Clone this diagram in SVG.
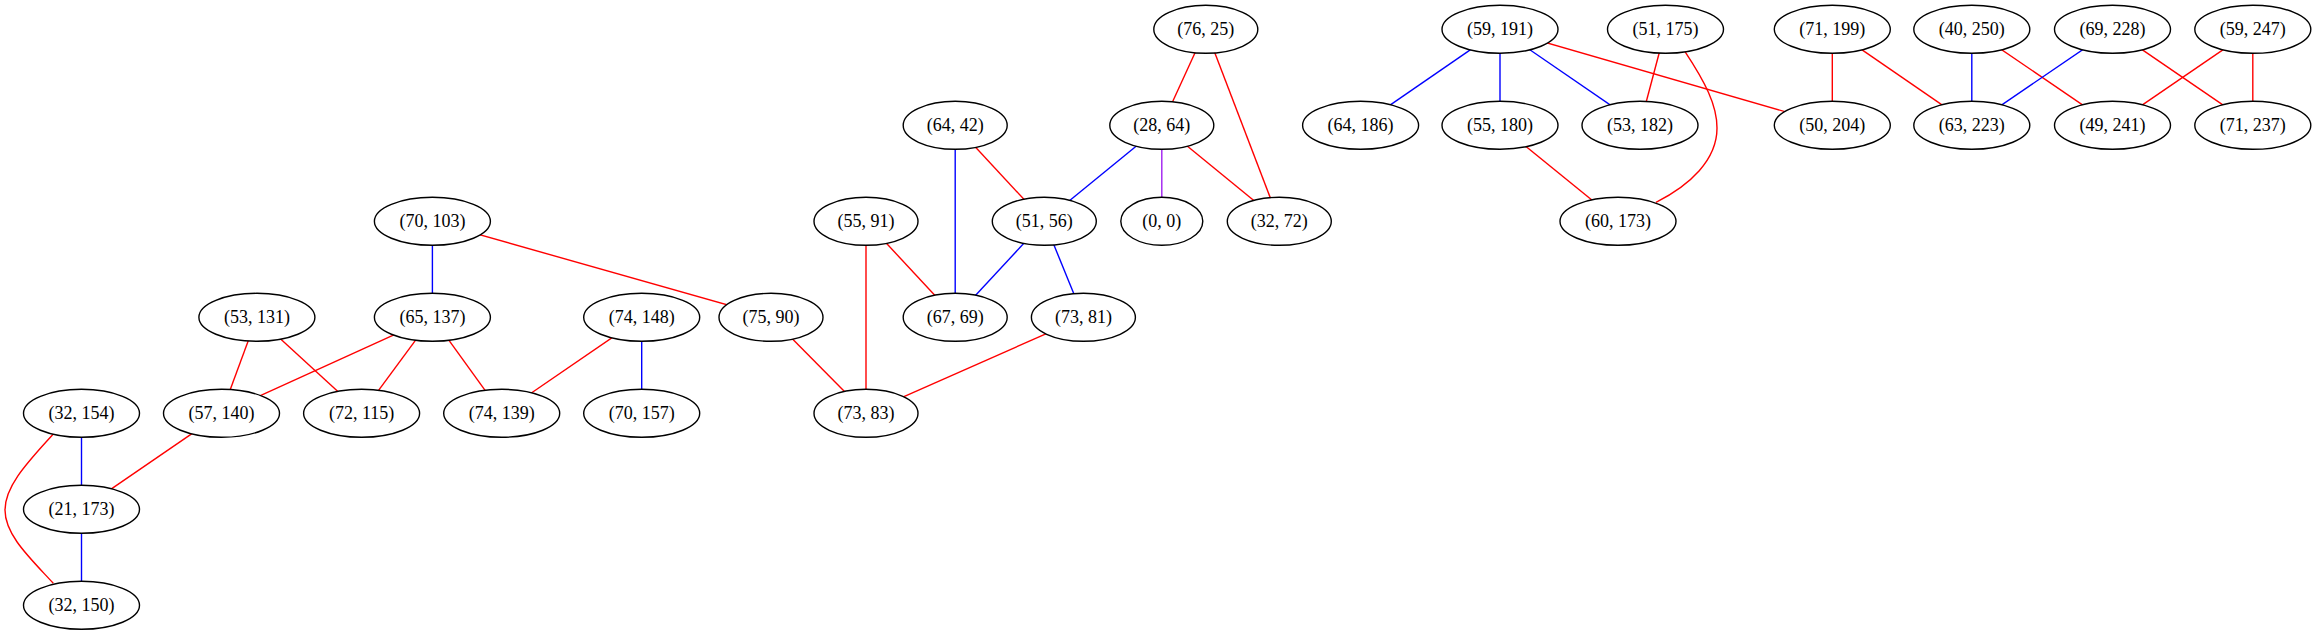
<svg xmlns="http://www.w3.org/2000/svg" width="2316" height="635" viewBox="0 0 2316 635">
<style>
.n ellipse{fill:#ffffff;stroke:#000000;stroke-width:1.4}
.n text{font-family:"Liberation Serif","Times New Roman",serif;font-size:18px;fill:#000000;text-anchor:middle}
.e line,.e path{fill:none;stroke-width:1.4}
.r{stroke:#ff0000}
.b{stroke:#0000ff}
.p{stroke:#a020f0}
</style>
<rect width="2316" height="635" fill="#ffffff"/>
<g id="edges" class="e">
<line class="b" x1="432.4" y1="221.3" x2="432.4" y2="317.3"/>
<line class="r" x1="432.4" y1="221.3" x2="771" y2="317.3"/>
<line class="r" x1="256.9" y1="317.3" x2="221.5" y2="413.3"/>
<line class="r" x1="256.9" y1="317.3" x2="361.6" y2="413.3"/>
<line class="r" x1="432.4" y1="317.3" x2="221.5" y2="413.3"/>
<line class="r" x1="432.4" y1="317.3" x2="361.6" y2="413.3"/>
<line class="r" x1="432.4" y1="317.3" x2="501.7" y2="413.3"/>
<line class="r" x1="641.7" y1="317.3" x2="501.7" y2="413.3"/>
<line class="b" x1="641.7" y1="317.3" x2="641.7" y2="413.3"/>
<line class="b" x1="81.5" y1="413.3" x2="81.5" y2="509.3"/>
<path class="r" d="M53.3,434 C30,460 5,485 5,510 C5,535 30,558 53.3,583.3"/>
<line class="r" x1="221.5" y1="413.3" x2="81.5" y2="509.3"/>
<line class="b" x1="81.5" y1="509.3" x2="81.5" y2="605.3"/>
<line class="r" x1="1205.8" y1="29.3" x2="1161.8" y2="125.3"/>
<line class="r" x1="1205.8" y1="29.3" x2="1279.3" y2="221.3"/>
<line class="b" x1="955.2" y1="125.3" x2="955.2" y2="317.3"/>
<line class="r" x1="955.2" y1="125.3" x2="1044.3" y2="221.3"/>
<line class="b" x1="1161.8" y1="125.3" x2="1044.3" y2="221.3"/>
<line class="p" x1="1161.8" y1="125.3" x2="1161.8" y2="221.3"/>
<line class="r" x1="1161.8" y1="125.3" x2="1279.3" y2="221.3"/>
<line class="r" x1="866" y1="221.3" x2="955.2" y2="317.3"/>
<line class="r" x1="866" y1="221.3" x2="866" y2="413.3"/>
<line class="b" x1="1044.3" y1="221.3" x2="955.2" y2="317.3"/>
<line class="b" x1="1044.3" y1="221.3" x2="1083.4" y2="317.3"/>
<line class="r" x1="771" y1="317.3" x2="866" y2="413.3"/>
<line class="r" x1="1083.4" y1="317.3" x2="866" y2="413.3"/>
<line class="b" x1="1500" y1="29.3" x2="1360.6" y2="125.3"/>
<line class="b" x1="1500" y1="29.3" x2="1500" y2="125.3"/>
<line class="b" x1="1500" y1="29.3" x2="1640" y2="125.3"/>
<line class="r" x1="1500" y1="29.3" x2="1832.3" y2="125.3"/>
<line class="r" x1="1665.5" y1="29.3" x2="1640" y2="125.3"/>
<path class="r" d="M1685,51.7 C1705,82 1717,105 1717,128 C1717,160 1690,185 1656,202.3"/>
<line class="r" x1="1500" y1="125.3" x2="1618" y2="221.3"/>
<line class="r" x1="1832.3" y1="29.3" x2="1832.3" y2="125.3"/>
<line class="r" x1="1832.3" y1="29.3" x2="1971.8" y2="125.3"/>
<line class="b" x1="1971.8" y1="29.3" x2="1971.8" y2="125.3"/>
<line class="r" x1="1971.8" y1="29.3" x2="2112.5" y2="125.3"/>
<line class="b" x1="2112.5" y1="29.3" x2="1971.8" y2="125.3"/>
<line class="r" x1="2112.5" y1="29.3" x2="2252.8" y2="125.3"/>
<line class="r" x1="2252.8" y1="29.3" x2="2112.5" y2="125.3"/>
<line class="r" x1="2252.8" y1="29.3" x2="2252.8" y2="125.3"/>
</g>
<g id="n70_103" class="n"><ellipse cx="432.4" cy="221.3" rx="58" ry="24"/><text x="432.4" y="227.3">(70, 103)</text></g>
<g id="n53_131" class="n"><ellipse cx="256.9" cy="317.3" rx="58" ry="24"/><text x="256.9" y="323.3">(53, 131)</text></g>
<g id="n65_137" class="n"><ellipse cx="432.4" cy="317.3" rx="58" ry="24"/><text x="432.4" y="323.3">(65, 137)</text></g>
<g id="n74_148" class="n"><ellipse cx="641.7" cy="317.3" rx="58" ry="24"/><text x="641.7" y="323.3">(74, 148)</text></g>
<g id="n75_90" class="n"><ellipse cx="771" cy="317.3" rx="52" ry="24"/><text x="771" y="323.3">(75, 90)</text></g>
<g id="n32_154" class="n"><ellipse cx="81.5" cy="413.3" rx="58" ry="24"/><text x="81.5" y="419.3">(32, 154)</text></g>
<g id="n57_140" class="n"><ellipse cx="221.5" cy="413.3" rx="58" ry="24"/><text x="221.5" y="419.3">(57, 140)</text></g>
<g id="n72_115" class="n"><ellipse cx="361.6" cy="413.3" rx="58" ry="24"/><text x="361.6" y="419.3">(72, 115)</text></g>
<g id="n74_139" class="n"><ellipse cx="501.7" cy="413.3" rx="58" ry="24"/><text x="501.7" y="419.3">(74, 139)</text></g>
<g id="n70_157" class="n"><ellipse cx="641.7" cy="413.3" rx="58" ry="24"/><text x="641.7" y="419.3">(70, 157)</text></g>
<g id="n21_173" class="n"><ellipse cx="81.5" cy="509.3" rx="58" ry="24"/><text x="81.5" y="515.3">(21, 173)</text></g>
<g id="n32_150" class="n"><ellipse cx="81.5" cy="605.3" rx="58" ry="24"/><text x="81.5" y="611.3">(32, 150)</text></g>
<g id="n76_25" class="n"><ellipse cx="1205.8" cy="29.3" rx="52" ry="24"/><text x="1205.8" y="35.3">(76, 25)</text></g>
<g id="n64_42" class="n"><ellipse cx="955.2" cy="125.3" rx="52" ry="24"/><text x="955.2" y="131.3">(64, 42)</text></g>
<g id="n28_64" class="n"><ellipse cx="1161.8" cy="125.3" rx="52" ry="24"/><text x="1161.8" y="131.3">(28, 64)</text></g>
<g id="n55_91" class="n"><ellipse cx="866" cy="221.3" rx="52" ry="24"/><text x="866" y="227.3">(55, 91)</text></g>
<g id="n51_56" class="n"><ellipse cx="1044.3" cy="221.3" rx="52" ry="24"/><text x="1044.3" y="227.3">(51, 56)</text></g>
<g id="n0_0" class="n"><ellipse cx="1161.8" cy="221.3" rx="41" ry="24"/><text x="1161.8" y="227.3">(0, 0)</text></g>
<g id="n32_72" class="n"><ellipse cx="1279.3" cy="221.3" rx="52" ry="24"/><text x="1279.3" y="227.3">(32, 72)</text></g>
<g id="n67_69" class="n"><ellipse cx="955.2" cy="317.3" rx="52" ry="24"/><text x="955.2" y="323.3">(67, 69)</text></g>
<g id="n73_81" class="n"><ellipse cx="1083.4" cy="317.3" rx="52" ry="24"/><text x="1083.4" y="323.3">(73, 81)</text></g>
<g id="n73_83" class="n"><ellipse cx="866" cy="413.3" rx="52" ry="24"/><text x="866" y="419.3">(73, 83)</text></g>
<g id="n59_191" class="n"><ellipse cx="1500" cy="29.3" rx="58" ry="24"/><text x="1500" y="35.3">(59, 191)</text></g>
<g id="n51_175" class="n"><ellipse cx="1665.5" cy="29.3" rx="58" ry="24"/><text x="1665.5" y="35.3">(51, 175)</text></g>
<g id="n71_199" class="n"><ellipse cx="1832.3" cy="29.3" rx="58" ry="24"/><text x="1832.3" y="35.3">(71, 199)</text></g>
<g id="n40_250" class="n"><ellipse cx="1971.8" cy="29.3" rx="58" ry="24"/><text x="1971.8" y="35.3">(40, 250)</text></g>
<g id="n69_228" class="n"><ellipse cx="2112.5" cy="29.3" rx="58" ry="24"/><text x="2112.5" y="35.3">(69, 228)</text></g>
<g id="n59_247" class="n"><ellipse cx="2252.8" cy="29.3" rx="58" ry="24"/><text x="2252.8" y="35.3">(59, 247)</text></g>
<g id="n64_186" class="n"><ellipse cx="1360.6" cy="125.3" rx="58" ry="24"/><text x="1360.6" y="131.3">(64, 186)</text></g>
<g id="n55_180" class="n"><ellipse cx="1500" cy="125.3" rx="58" ry="24"/><text x="1500" y="131.3">(55, 180)</text></g>
<g id="n53_182" class="n"><ellipse cx="1640" cy="125.3" rx="58" ry="24"/><text x="1640" y="131.3">(53, 182)</text></g>
<g id="n50_204" class="n"><ellipse cx="1832.3" cy="125.3" rx="58" ry="24"/><text x="1832.3" y="131.3">(50, 204)</text></g>
<g id="n63_223" class="n"><ellipse cx="1971.8" cy="125.3" rx="58" ry="24"/><text x="1971.8" y="131.3">(63, 223)</text></g>
<g id="n49_241" class="n"><ellipse cx="2112.5" cy="125.3" rx="58" ry="24"/><text x="2112.5" y="131.3">(49, 241)</text></g>
<g id="n71_237" class="n"><ellipse cx="2252.8" cy="125.3" rx="58" ry="24"/><text x="2252.8" y="131.3">(71, 237)</text></g>
<g id="n60_173" class="n"><ellipse cx="1618" cy="221.3" rx="58" ry="24"/><text x="1618" y="227.3">(60, 173)</text></g>
</svg>
